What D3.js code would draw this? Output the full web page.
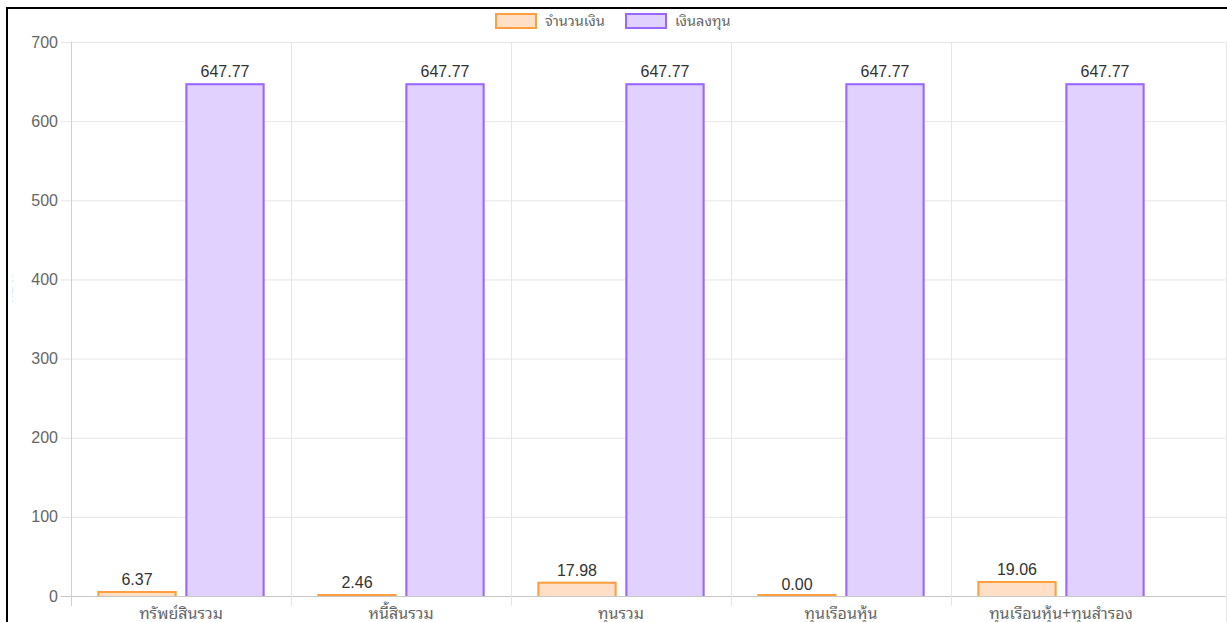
<!DOCTYPE html>
<html>
<head>
<meta charset="utf-8">
<script src="https://cdn.jsdelivr.net/npm/d3@7"></script>
<style>
  body { margin: 0; background: #fff; }
  svg { display: block; }
  text { font-family: "Liberation Sans", Arial, sans-serif; }
  .thai { font-family: "Noto Sans Thai Looped", Tahoma, "Noto Sans Thai", "Noto Sans", sans-serif; }
</style>
</head>
<body>
<div id="chart"></div>
<script>
// data
var categories = ["ทรัพย์สินรวม", "หนี้สินรวม", "ทุนรวม", "ทุนเรือนหุ้น", "ทุนเรือนหุ้น+ทุนสำรอง"];
var seriesNames = ["จำนวนเงิน", "เงินลงทุน"];
var amount = [6.37, 2.46, 17.98, 0.00, 19.06];
var investment = [647.77, 647.77, 647.77, 647.77, 647.77];
var yTicks = [0, 100, 200, 300, 400, 500, 600, 700];
var yTitle = "มูลค่า (ล้านบาท)";

var fills = ["#ffe0c7", "#e0d1ff"];
var strokes = ["#ff9f40", "#9966ff"];

var width = 1227,
    height = 622;

var plotLeft = 71, plotRight = 1171, plotTop = 42, plotBottom = 596;

var svg = d3.select("#chart").append("svg")
    .attr("width", width)
    .attr("height", height);

var x = d3.scaleBand().domain(categories).range([plotLeft, plotRight]);
var xg = d3.scaleBand().domain(seriesNames).range([x.bandwidth() * 0.1, x.bandwidth() * 0.9]);
var y = d3.scaleLinear().domain([0, 700]).range([plotBottom, plotTop]);

// horizontal grid
svg.append("g")
    .selectAll("line")
    .data(yTicks)
    .enter().append("line")
    .attr("x1", plotLeft - 10)
    .attr("x2", 1226)
    .attr("y1", function(d) { return y(d) + 0.5; })
    .attr("y2", function(d) { return y(d) + 0.5; })
    .style("stroke", function(d) { return d === 0 ? "#c8c8c8" : "#e6e6e6"; })
    .style("stroke-width", 1);

// vertical grid (category boundaries)
var vlines = categories.slice(1).map(function(c) { return x(c); });
vlines.push(1226);
svg.append("g")
    .selectAll("line")
    .data(vlines)
    .enter().append("line")
    .attr("x1", function(d) { return d + 0.5; })
    .attr("x2", function(d) { return d + 0.5; })
    .attr("y1", plotTop)
    .attr("y2", function(d, i) { return i === vlines.length - 1 ? height : plotBottom + 10; })
    .style("stroke", "#e6e6e6");

// y axis line
svg.append("line")
    .attr("x1", plotLeft + 0.5).attr("x2", plotLeft + 0.5)
    .attr("y1", plotTop).attr("y2", plotBottom + 10)
    .style("stroke", "#d0d0d0");

// y tick labels
svg.append("g")
    .selectAll("text")
    .data(yTicks)
    .enter().append("text")
    .attr("x", plotLeft - 13)
    .attr("y", function(d) { return y(d); })
    .attr("dy", "0.35em")
    .attr("text-anchor", "end")
    .style("font-size", "16px")
    .style("fill", "#666")
    .text(function(d) { return d; });

// bars
var rows = categories.map(function(c, i) {
    return [
        { cat: c, s: 0, key: seriesNames[0], v: amount[i] },
        { cat: c, s: 1, key: seriesNames[1], v: investment[i] }
    ];
});

var groups = svg.append("g")
    .selectAll("g")
    .data(rows)
    .enter().append("g")
    .attr("transform", function(d) { return "translate(" + x(d[0].cat) + ",0)"; });

var barW = xg.bandwidth() * 0.9;
function bx(d) { return xg(d.key) + (xg.bandwidth() - barW) / 2; }

groups.selectAll("rect")
    .data(function(d) { return d; })
    .enter().append("rect")
    .attr("x", bx)
    .attr("y", function(d) { return y(d.v); })
    .attr("width", barW)
    .attr("height", function(d) { return plotBottom - y(d.v); })
    .style("fill", function(d) { return fills[d.s]; });

groups.selectAll("path")
    .data(function(d) { return d; })
    .enter().append("path")
    .attr("d", function(d) {
        var x0 = bx(d) + 1, x1 = bx(d) + barW - 1, yt = Math.min(y(d.v) + 1, plotBottom - 1);
        return "M" + x0 + "," + plotBottom + "V" + yt + "H" + x1 + "V" + plotBottom;
    })
    .style("fill", "none")
    .style("stroke", function(d) { return strokes[d.s]; })
    .style("stroke-width", 2);

groups.selectAll("text")
    .data(function(d) { return d; })
    .enter().append("text")
    .attr("x", function(d) { return bx(d) + barW / 2; })
    .attr("y", function(d) { return y(d.v) - 6; })
    .attr("text-anchor", "middle")
    .style("font-size", "16px")
    .style("fill", "#333")
    .text(function(d) { return d.v.toFixed(2); });

// x labels
svg.append("g")
    .selectAll("text")
    .data(categories)
    .enter().append("text")
    .attr("class", "thai")
    .attr("x", function(d) { return x(d) + x.bandwidth() / 2; })
    .attr("y", 619)
    .attr("text-anchor", "middle")
    .style("font-size", "16px")
    .style("fill", "#666")
    .text(function(d) { return d; });

// legend
var legendX = [495, 625];
var legend = svg.append("g")
    .selectAll("g")
    .data(seriesNames)
    .enter().append("g")
    .attr("transform", function(d, i) { return "translate(" + legendX[i] + ",13)"; });

legend.append("rect")
    .attr("x", 1).attr("y", 1)
    .attr("width", 40).attr("height", 14)
    .style("fill", function(d, i) { return fills[i]; })
    .style("stroke", function(d, i) { return strokes[i]; })
    .style("stroke-width", 2);

legend.append("text")
    .attr("class", "thai")
    .attr("x", 50)
    .attr("y", 8)
    .attr("dy", "0.35em")
    .style("font-size", "14.5px")
    .style("fill", "#666")
    .text(function(d) { return d; });

// y title, mostly cut off by the frame
svg.append("clipPath").attr("id", "clipTitle")
    .append("rect").attr("x", 8).attr("y", 0).attr("width", 30).attr("height", height);

svg.append("text")
    .attr("class", "thai")
    .attr("clip-path", "url(#clipTitle)")
    .attr("transform", "translate(12,312) rotate(-90)")
    .attr("text-anchor", "middle")
    .style("font-size", "14px")
    .style("font-weight", "bold")
    .style("fill", "#888")
    .text(yTitle);

// frame
svg.append("rect").attr("x", 0).attr("y", 0).attr("width", width).attr("height", 7).style("fill", "#fff");
svg.append("rect").attr("x", 0).attr("y", 0).attr("width", 6).attr("height", height).style("fill", "#fff");
svg.append("line")
    .attr("x1", 6).attr("x2", width)
    .attr("y1", 8).attr("y2", 8)
    .style("stroke", "#000").style("stroke-width", 2);
svg.append("line")
    .attr("x1", 7).attr("x2", 7)
    .attr("y1", 7).attr("y2", height)
    .style("stroke", "#000").style("stroke-width", 2);
</script>
</body>
</html>
